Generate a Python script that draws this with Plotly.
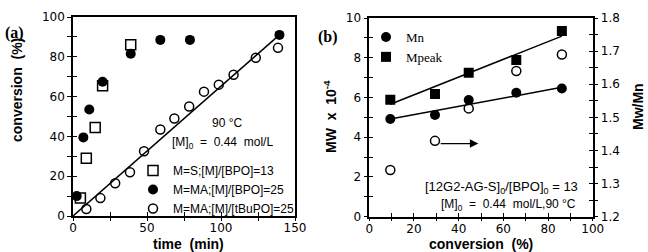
import plotly.graph_objects as go

# ---------- Panel (a) data ----------
s_time = [5, 9, 15, 20, 39]
s_conv = [9, 29, 44.5, 65.5, 86]
ma_bpo_time = [2.5, 7, 11, 20, 39, 59, 79, 139.5]
ma_bpo_conv = [10, 39.5, 53.5, 67.5, 81.5, 88.5, 88.5, 91]
ma_tbu_time = [9, 18.5, 28.5, 38.5, 48, 59, 68.5, 78.5, 88.5, 98.5, 108.5, 123.5, 138.5]
ma_tbu_conv = [3.5, 9, 16.5, 22, 32.5, 43.5, 49, 55, 62.5, 66, 71, 79.5, 84.5]
fit_a_x = [0, 139.5]
fit_a_y = [0, 91]

# ---------- Panel (b) data ----------
b_conv = [9.4, 29.4, 44.5, 65.8, 86.2]
mn = [4.92, 5.12, 5.87, 6.24, 6.45]
mpeak = [5.88, 6.18, 7.25, 7.89, 9.35]
pdi = [1.341, 1.429, 1.527, 1.64, 1.69]
fit_mpeak_x = [9.4, 86.2]
fit_mpeak_y = [5.66, 9.09]
fit_mn_x = [9.4, 86.2]
fit_mn_y = [4.92, 6.51]

W, H = 648, 252
def px(x):
    return x / W
def py(y):
    return 1 - y / H

TICKF = dict(family="DejaVu Sans", size=12, color="black")

fig = go.Figure()

# panel a traces
fig.add_trace(go.Scatter(x=fit_a_x, y=fit_a_y, mode="lines", line=dict(color="black", width=1.5),
                         showlegend=False, xaxis="x", yaxis="y", hoverinfo="skip"))
fig.add_trace(go.Scatter(x=s_time, y=s_conv, mode="markers", name="M=S;[M]/[BPO]=13",
                         marker=dict(symbol="square-open", size=10, color="black", line=dict(width=1.5)),
                         xaxis="x", yaxis="y", legend="legend"))
fig.add_trace(go.Scatter(x=ma_bpo_time, y=ma_bpo_conv, mode="markers", name="M=MA;[M]/[BPO]=25",
                         marker=dict(symbol="circle", size=10, color="black"),
                         xaxis="x", yaxis="y", legend="legend"))
fig.add_trace(go.Scatter(x=ma_tbu_time, y=ma_tbu_conv, mode="markers", name="M=MA;[M]/[tBuPO]=25",
                         marker=dict(symbol="circle-open", size=9, color="black", line=dict(width=1.5)),
                         xaxis="x", yaxis="y", legend="legend"))

# panel b traces
fig.add_trace(go.Scatter(x=fit_mpeak_x, y=fit_mpeak_y, mode="lines", line=dict(color="black", width=1.5),
                         showlegend=False, xaxis="x2", yaxis="y2", hoverinfo="skip"))
fig.add_trace(go.Scatter(x=fit_mn_x, y=fit_mn_y, mode="lines", line=dict(color="black", width=1.5),
                         showlegend=False, xaxis="x2", yaxis="y2", hoverinfo="skip"))
fig.add_trace(go.Scatter(x=b_conv, y=mn, mode="markers", name="Mn",
                         marker=dict(symbol="circle", size=10, color="black"),
                         xaxis="x2", yaxis="y2", legend="legend2"))
fig.add_trace(go.Scatter(x=b_conv, y=mpeak, mode="markers", name="Mpeak",
                         marker=dict(symbol="square", size=10, color="black"),
                         xaxis="x2", yaxis="y2", legend="legend2"))
fig.add_trace(go.Scatter(x=b_conv, y=pdi, mode="markers", name="Mw/Mn", showlegend=False,
                         marker=dict(symbol="circle-open", size=9, color="black", line=dict(width=1.5)),
                         xaxis="x2", yaxis="y3"))

# empty traces so overlay tick axes are drawn
for xa, ya in [("x4", "y"), ("x", "y4"), ("x5", "y2"), ("x2", "y5"), ("x2", "y6")]:
    fig.add_trace(go.Scatter(x=[None], y=[None], xaxis=xa, yaxis=ya, showlegend=False, hoverinfo="skip"))

dom_ax = [px(73), px(295)]
dom_ay = [py(216), py(17)]
dom_bx = [px(369.3), px(592.7)]
dom_by = [py(216.7), py(18)]

base = dict(showgrid=False, zeroline=False, color="black", tickfont=TICKF)
line_ax = dict(showline=True, linecolor="black", linewidth=1.5, mirror=True)
inner = dict(showgrid=False, zeroline=False, showticklabels=False, showline=False,
             ticks="inside", ticklen=4, tickwidth=1.2, tickcolor="black")

fig.update_layout(
    width=W, height=H, margin=dict(l=0, r=0, t=0, b=0, autoexpand=False),
    paper_bgcolor="white", plot_bgcolor="white",
    xaxis=dict(**base, **line_ax, domain=dom_ax, anchor="y", range=[0, 150], dtick=50, tick0=0,
               ticks="outside", ticklen=3, tickwidth=1.2, tickcolor="black", ticklabelstandoff=-3,
               minor=dict(dtick=25, ticks="outside", ticklen=3, tickwidth=1.2, tickcolor="black")),
    yaxis=dict(**base, **line_ax, domain=dom_ay, anchor="x", range=[0, 100], dtick=20, tick0=0,
               ticks="outside", ticklen=4, tickwidth=1.2, tickcolor="black",
               minor=dict(dtick=10, ticks="outside", ticklen=4, tickwidth=1.2, tickcolor="black")),
    xaxis4=dict(**inner, overlaying="x", anchor="y", range=[0, 150], dtick=25, tick0=0),
    yaxis4=dict(**inner, overlaying="y", anchor="x", side="left", range=[0, 100], dtick=10, tick0=0),
    xaxis2=dict(**base, **line_ax, domain=dom_bx, anchor="y2", range=[0, 100], dtick=20, tick0=0,
                ticks="outside", ticklen=3, tickwidth=1.2, tickcolor="black", ticklabelstandoff=-3,
                minor=dict(dtick=10, ticks="outside", ticklen=3, tickwidth=1.2, tickcolor="black")),
    yaxis2=dict(**base, showline=True, linecolor="black", linewidth=1.5, domain=dom_by, anchor="x2",
                range=[0, 10], dtick=2, tick0=0,
                ticks="outside", ticklen=4, tickwidth=1.2, tickcolor="black",
                minor=dict(dtick=1, ticks="outside", ticklen=4, tickwidth=1.2, tickcolor="black")),
    yaxis3=dict(**base, showline=True, linecolor="black", linewidth=1.5, overlaying="y2", anchor="x2",
                side="right", range=[1.2, 1.8], dtick=0.1, tick0=1.2, tickformat=".1f",
                ticks="outside", ticklen=4, tickwidth=1.2, tickcolor="black",
                minor=dict(dtick=0.05, ticks="outside", ticklen=4, tickwidth=1.2, tickcolor="black")),
    xaxis5=dict(**inner, overlaying="x2", anchor="y2", range=[0, 100], dtick=10, tick0=0),
    yaxis5=dict(**inner, overlaying="y2", anchor="x2", side="left", range=[0, 10], dtick=1, tick0=0),
    yaxis6=dict(**inner, overlaying="y2", anchor="x2", side="right", range=[1.2, 1.8], dtick=0.05, tick0=1.2),
    legend=dict(x=px(133), y=py(156), xanchor="left", yanchor="top", bgcolor="rgba(0,0,0,0)",
                font=dict(family="Liberation Sans", size=12, color="black"),
                itemwidth=30, tracegroupgap=0),
    legend2=dict(x=px(366), y=py(22), xanchor="left", yanchor="top", bgcolor="rgba(0,0,0,0)",
                 font=dict(family="Liberation Serif", size=13, color="black"),
                 itemwidth=30, tracegroupgap=0),
    showlegend=True,
)

ann = []
def add_text(text, x, y, size=12, family="Liberation Sans", bold=False, xanchor="center", angle=0):
    f = dict(family=family, size=size, color="black")
    if bold:
        f["weight"] = "bold"
    ann.append(dict(text=text, x=px(x), y=py(y), xref="paper", yref="paper", showarrow=False,
                    xanchor=xanchor, yanchor="middle", font=f, textangle=angle))

add_text("(a)", 14, 33, size=16, family="Liberation Serif", bold=True)
add_text("(b)", 328, 37, size=16, family="Liberation Serif", bold=True)
add_text("conversion  (%)", 17, 90, size=14, bold=True, angle=-90)
add_text("time  (min)", 188, 243.5, size=14, bold=True)
add_text("MW  x  10<sup>-4</sup>", 330, 117, size=14, bold=True, angle=-90)
add_text("Mw/Mn", 638, 107, size=14, bold=True, angle=-90)
add_text("conversion  (%)", 481, 243.5, size=14, bold=True)
add_text("90 °C", 227, 123, size=12)
add_text("[M]<sub>0</sub>  =  0.44  mol/L", 222, 143, size=12)
add_text("[12G2-AG-S]<sub>0</sub>/[BPO]<sub>0</sub> = 13", 580, 187, size=13, xanchor="right")
add_text("[M]<sub>0</sub>  =  0.44  mol/L,90 °C", 578, 205, size=12, xanchor="right")

# arrow in panel b
ann.append(dict(x=48.8, y=3.68, ax=31.3, ay=3.68, xref="x2", yref="y2", axref="x2", ayref="y2",
                showarrow=True, arrowhead=2, arrowsize=1.3, arrowwidth=1.3, arrowcolor="black", text=""))

fig.update_layout(annotations=ann)
fig.write_html("out.html", config={"displayModeBar": False},
               post_script="document.body.style.margin='0';document.body.style.overflow='hidden';")
